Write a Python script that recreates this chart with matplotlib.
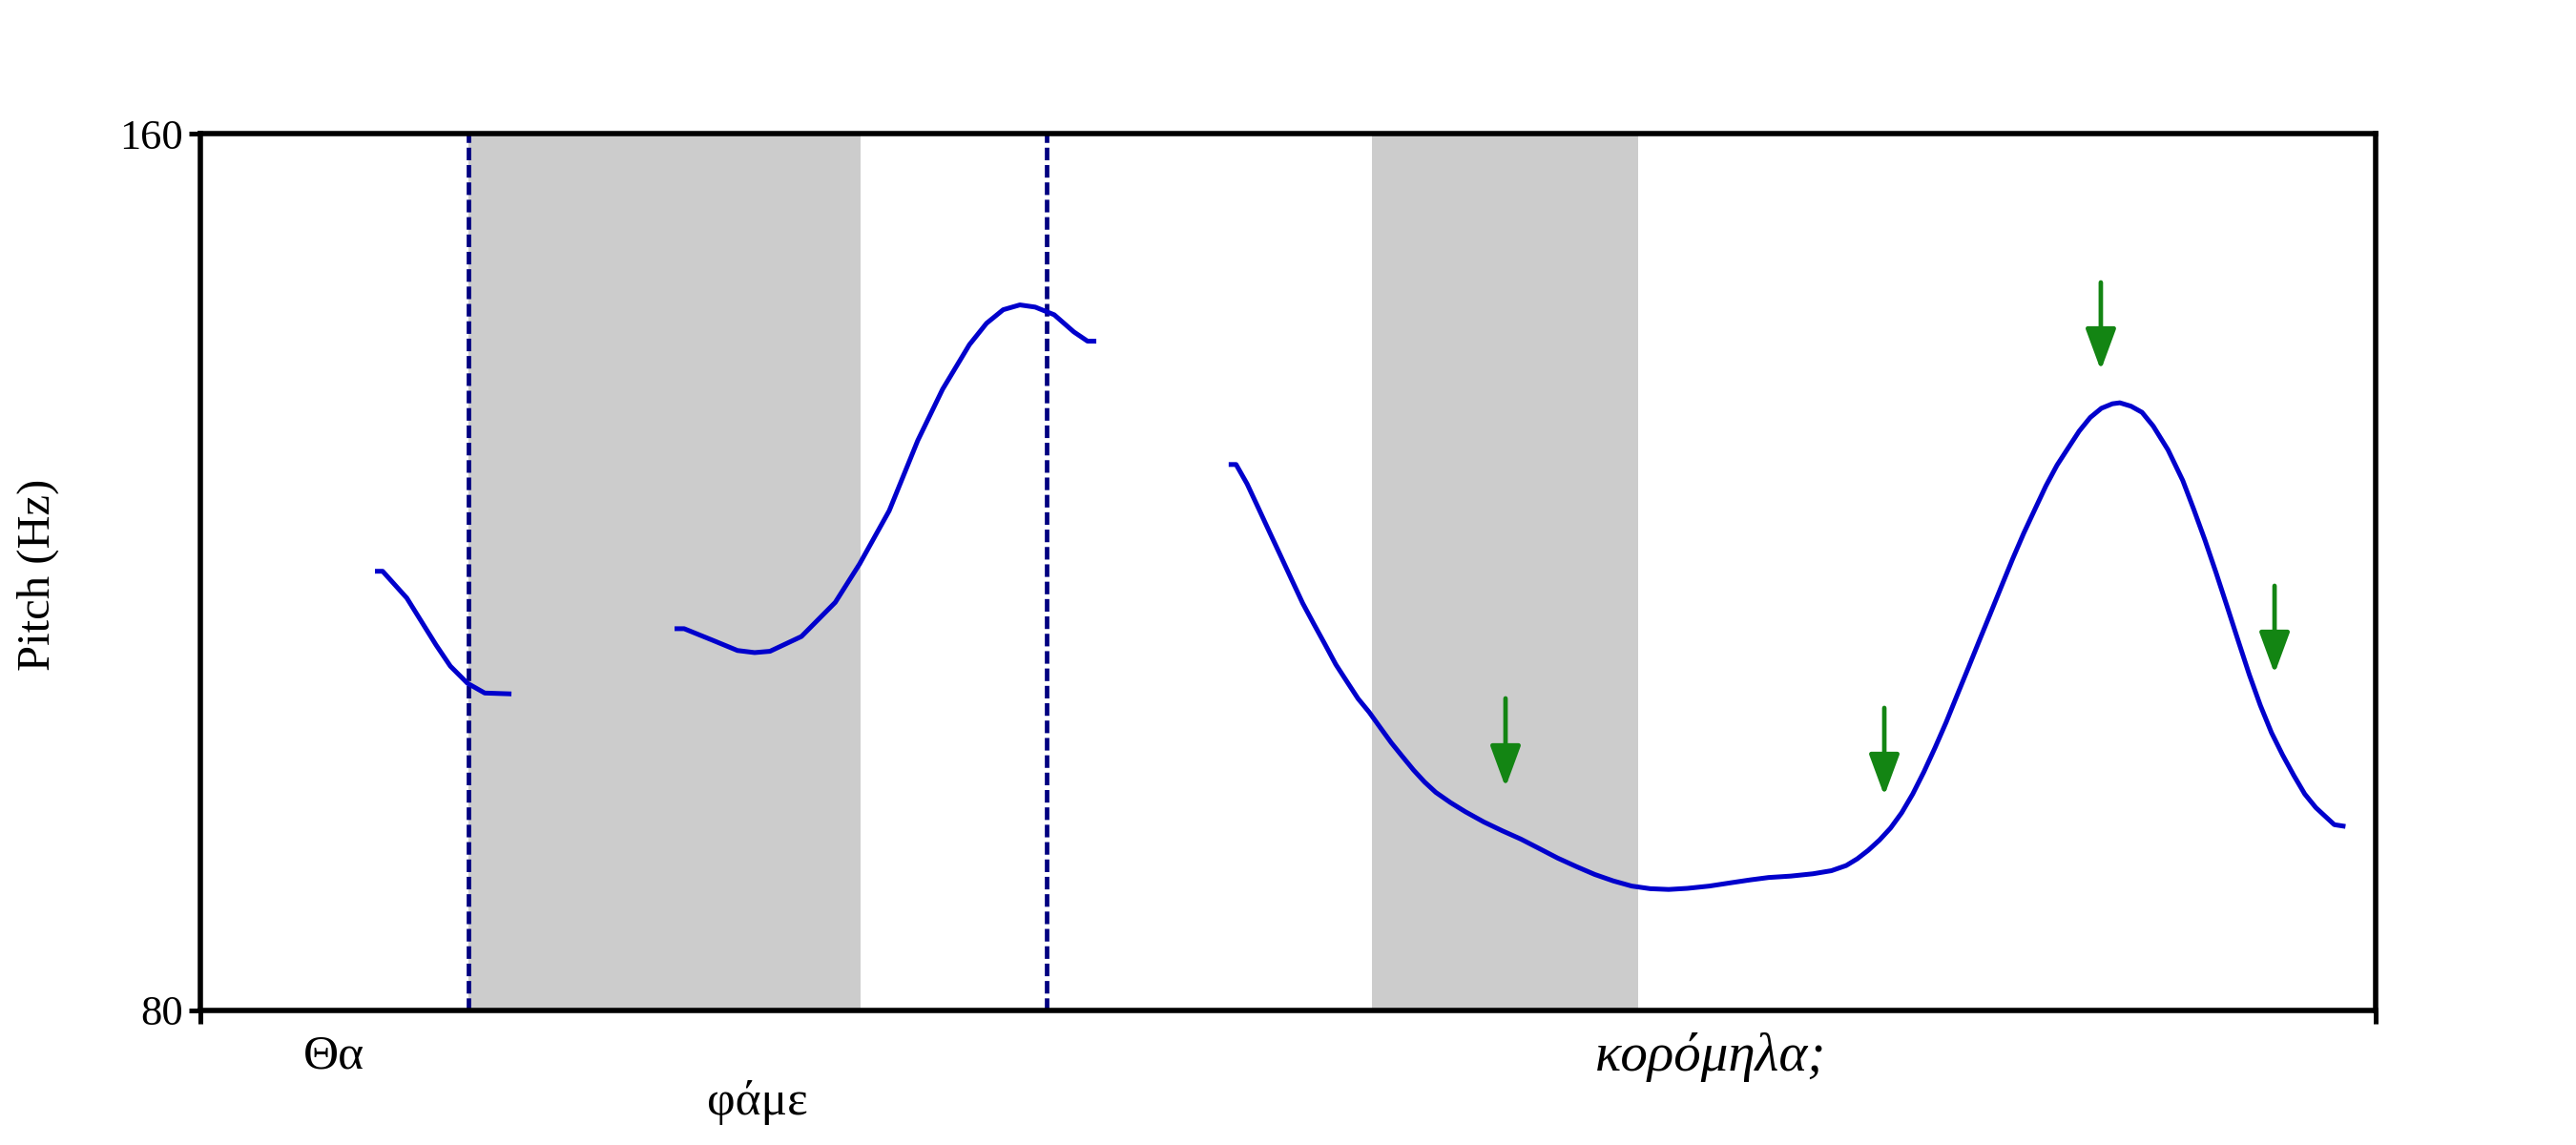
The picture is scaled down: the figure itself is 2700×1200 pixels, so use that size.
import matplotlib
matplotlib.use("Agg")
import matplotlib.pyplot as plt
from matplotlib.transforms import blended_transform_factory

plt.rcParams['font.family'] = ['Liberation Serif', 'DejaVu Serif']
plt.rcParams['lines.scale_dashes'] = False

# ---- data (time in s, pitch in Hz) ----
seg1_t = [0.1204, 0.1257, 0.1424, 0.1625, 0.1724, 0.1842, 0.1961, 0.2145]
seg1_f = [120.07, 120.07, 117.62, 113.35, 111.41, 109.85, 108.96, 108.88]

seg2_t = [0.3270, 0.3336, 0.3539, 0.3704, 0.3822, 0.3928, 0.4145, 0.4378, 0.4546,
          0.4750, 0.4947, 0.5118, 0.5303, 0.5421, 0.5536, 0.5651, 0.5757, 0.5888,
          0.6023, 0.6118, 0.6178]
seg2_f = [114.83, 114.83, 113.74, 112.84, 112.65, 112.77, 114.12, 117.23, 120.74,
          125.59, 132.00, 136.67, 140.74, 142.69, 143.93, 144.37, 144.17, 143.47,
          141.91, 141.06, 141.06]

seg3_t = [0.7091, 0.7142, 0.7218, 0.7295, 0.7371, 0.7448, 0.7524, 0.7601, 0.7677,
          0.7754, 0.7830, 0.7906, 0.7983, 0.8060, 0.8136, 0.8213, 0.8289, 0.8366,
          0.8442, 0.8519, 0.8620, 0.8723, 0.8850, 0.8978, 0.9105, 0.9233, 0.9360,
          0.9488, 0.9615, 0.9743, 0.9870, 0.9998, 1.0125, 1.0253, 1.0406, 1.0559,
          1.0686, 1.0814, 1.0967, 1.1120, 1.1247, 1.1349, 1.1426, 1.1502, 1.1579,
          1.1655, 1.1732, 1.1808, 1.1885, 1.1961, 1.2038, 1.2114, 1.2191, 1.2267,
          1.2344, 1.2420, 1.2497, 1.2573, 1.2650, 1.2726, 1.2803, 1.2879, 1.2956,
          1.3032, 1.3109, 1.3185, 1.3236, 1.3313, 1.3389, 1.3466, 1.3568, 1.3670,
          1.3746, 1.3823, 1.3899, 1.3976, 1.4052, 1.4129, 1.4205, 1.4282, 1.4358,
          1.4435, 1.4511, 1.4588, 1.4664, 1.4715, 1.4792]
seg3_f = [129.81, 129.81, 128.04, 125.86, 123.69, 121.51, 119.34, 117.16, 115.29,
          113.43, 111.56, 110.01, 108.45, 107.21, 105.81, 104.41, 103.17, 101.93,
          100.84, 99.90, 98.97, 98.13, 97.20, 96.39, 95.64, 94.77, 93.90,
          93.13, 92.41, 91.82, 91.35, 91.11, 91.04, 91.14, 91.35, 91.66,
          91.91, 92.13, 92.26, 92.47, 92.75, 93.22, 93.84, 94.62, 95.55,
          96.64, 98.04, 99.75, 101.77, 103.95, 106.28, 108.76, 111.25, 113.74,
          116.23, 118.71, 121.20, 123.53, 125.71, 127.85, 129.75, 131.30, 132.86,
          134.10, 134.94, 135.35, 135.44, 135.13, 134.57, 133.32, 131.15, 128.35,
          125.71, 122.91, 119.96, 116.85, 113.74, 110.63, 107.83, 105.34, 103.32,
          101.46, 99.75, 98.50, 97.57, 96.95, 96.79]

shade_start = [0.1849, 0.8079]
shade_end = [0.4553, 0.9914]
boundaries = [0.1849, 0.5836]

arrow_t = [0.9000, 1.1612, 1.3105, 1.4303]
arrow_tail = [108.47, 107.60, 146.42, 118.74]
arrow_tip = [100.37, 99.59, 138.41, 110.73]

word_labels = ["Θα", "φάμε", "κορόμηλα;"]
word_t = [0.0921, 0.3842, 1.0414]
word_baseline = [0.0667, 0.0267, 0.0650]
word_style = ["normal", "normal", "italic"]
word_size = [37, 37, 41]

y_ticks = [80, 160]
t_range = [0.0, 1.5]

# ---- figure ----
fig = plt.figure(figsize=(27, 12), dpi=100)
ax = fig.add_axes([0.07778, 0.11750, 0.84444, 0.76583])

for s, e in zip(shade_start, shade_end):
    ax.axvspan(s, e, color='#cccccc', lw=0, zorder=0)

for b in boundaries:
    ax.axvline(b, color='#000080', lw=3.4, linestyle=(0, (9.5, 3.6)), zorder=2)

for tt, ff in [(seg1_t, seg1_f), (seg2_t, seg2_f), (seg3_t, seg3_f)]:
    ax.plot(tt, ff, color='#0000cc', lw=3.6, solid_capstyle='butt',
            solid_joinstyle='round', zorder=3)

for x, tail, tip in zip(arrow_t, arrow_tail, arrow_tip):
    ax.annotate('', xy=(x, tip), xytext=(x, tail),
                arrowprops=dict(arrowstyle='-|>,head_length=0.38,head_width=0.14',
                                mutation_scale=70, color='#138513', lw=3.4,
                                shrinkA=0, shrinkB=0), zorder=4)

ax.set_xlim(*t_range)
ax.set_ylim(y_ticks[0], y_ticks[-1])
ax.set_yticks(y_ticks)
ax.set_yticklabels([str(v) for v in y_ticks])
ax.set_xticks(t_range)
ax.set_xticklabels([])
ax.tick_params(axis='y', direction='out', length=9, width=3.6, labelsize=32, pad=4)
ax.tick_params(axis='x', direction='out', length=10, width=3.6)
for sp in ax.spines.values():
    sp.set_linewidth(4)

trans = blended_transform_factory(ax.transData, fig.transFigure)
for lab, x, yb, st, fs in zip(word_labels, word_t, word_baseline, word_style, word_size):
    ax.text(x, yb, lab, transform=trans, ha='center', va='baseline',
            fontsize=fs, style=st, clip_on=False)

fig.text(0.0148, 0.498, "Pitch (Hz)", rotation=90, ha='center', va='center', fontsize=35)

fig.savefig("out.png", dpi=100, facecolor='white')
